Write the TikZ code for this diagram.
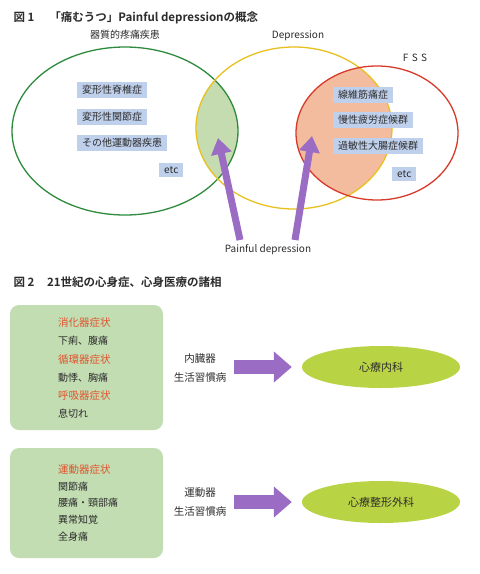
\documentclass[tikz,border=0pt]{standalone}
\usepackage{fontspec}
\setmainfont{Noto Sans CJK JP}[BoldFont={Noto Sans CJK JP Bold}]
\usetikzlibrary{arrows.meta,shapes.geometric}
\definecolor{darktext}{HTML}{2C2C2C}
\definecolor{organgreen}{HTML}{2E8A3C}
\definecolor{depyellow}{HTML}{E8C020}
\definecolor{fssred}{HTML}{D83A2A}
\definecolor{mixgreen}{HTML}{C5DBB0}
\definecolor{mixsalmon}{HTML}{F3BC9E}
\definecolor{tagblue}{HTML}{BFD0EC}
\definecolor{arrowpurple}{HTML}{9A6CC4}
\definecolor{boxgreen}{HTML}{C2DDB2}
\definecolor{limegreen}{HTML}{B8D444}
\definecolor{symptomred}{HTML}{E2532E}

\begin{document}
\begin{tikzpicture}[x=1pt,y=-1pt,
  lbl/.style={font=\fontsize{10}{12}\selectfont, text=darktext},
  tag/.style={lbl, fill=tagblue, anchor=west, inner xsep=5pt, inner ysep=3pt},
  symptom/.style={font=\fontsize{10.5}{12}\selectfont, text=symptomred, anchor=west, inner sep=0pt},
  complaint/.style={lbl, anchor=west, inner sep=0pt},
  fattarrow/.style={arrowpurple, line width=7pt, -{Triangle[length=16pt,width=20pt]}},
  blockarrow/.style={arrowpurple, line width=14pt, -{Triangle[length=18pt,width=30pt]}},
  clinic/.style={ellipse, fill=limegreen, minimum width=158pt, minimum height=42pt, font=\fontsize{11}{13}\selectfont, text=darktext},
  groupbox/.style={draw=none, fill=boxgreen, rounded corners=9pt}]
\useasboundingbox[fill=white] (0,0) rectangle (480,574);

% Figure 1
\node[anchor=west, font=\bfseries\fontsize{11.5}{13}\selectfont, text=darktext] (title1) at (10,18)
  {図 1\hspace{1.3em}「痛むうつ」Painful depressionの概念};

\begin{scope}
  \clip (125,131) ellipse [x radius=113pt, y radius=84pt];
  \fill[mixgreen] (294,128) ellipse [x radius=98pt, y radius=81pt];
\end{scope}
\begin{scope}
  \clip (377,133) ellipse [x radius=81pt, y radius=67pt];
  \fill[mixsalmon] (294,128) ellipse [x radius=98pt, y radius=81pt];
\end{scope}
\draw[organgreen, line width=1.3pt] (125,131) ellipse [x radius=113pt, y radius=84pt];
\draw[depyellow, line width=1.3pt] (294,128) ellipse [x radius=98pt, y radius=81pt];
\draw[fssred, line width=1.3pt] (377,133) ellipse [x radius=81pt, y radius=67pt];

\node[lbl] (organic) at (125,35) {器質的疼痛疾患};
\node[lbl] (depress) at (298,36) {Depression};
\node[lbl] (fss) at (415,58) {F\,\,S\,\,S};

\node[tag] (spondy) at (77,90) {変形性脊椎症};
\node[tag] (arthro) at (77,117) {変形性関節症};
\node[tag] (locomo) at (77,143) {その他運動器疾患};
\node[tag] (etcL) at (159,170) {etc};

\node[tag] (fibro) at (333,95) {線維筋痛症};
\node[tag] (fatigue) at (333,120) {慢性疲労症候群};
\node[tag] (bowel) at (333,146) {過敏性大腸症候群};
\node[tag] (etcR) at (392,174) {etc};

\node[lbl] (painful) at (268,250) {Painful depression};
\coordinate (footL) at (240,240);
\coordinate (tipL) at (218,138);
\coordinate (footR) at (295,240);
\coordinate (tipR) at (312,136);
\draw[fattarrow] (footL) -- (tipL);
\draw[fattarrow] (footR) -- (tipR);

% Figure 2
\node[anchor=west, font=\bfseries\fontsize{11.5}{13}\selectfont, text=darktext] (title2) at (10,282)
  {図 2\hspace{1.1em}21世紀の心身症、心身医療の諸相};

\fill[groupbox] (10,305) rectangle (163,430);
\node[symptom] (digest) at (58,323) {消化器症状};
\node[complaint] at (58,341) {下痢、腹痛};
\node[symptom] (circul) at (58,360) {循環器症状};
\node[complaint] at (58,378) {動悸、胸痛};
\node[symptom] (respir) at (58,396) {呼吸器症状};
\node[complaint] at (58,414) {息切れ};

\node[lbl, align=center, font=\fontsize{10.5}{19}\selectfont] (viscera) at (200,368) {内臓器\\生活習慣病};
\node[clinic] (psychint) at (381,367) {心療内科};
\draw[blockarrow] ([xshift=4pt]viscera.east |- psychint.west) -- ([xshift=-10pt]psychint.west);

\fill[groupbox] (10,448) rectangle (163,558);
\node[symptom] (motor) at (58,470) {運動器症状};
\node[complaint] at (58,487) {関節痛};
\node[complaint] at (58,503) {腰痛・頸部痛};
\node[complaint] at (58,520) {異常知覚};
\node[complaint] at (58,537) {全身痛};

\node[lbl, align=center, font=\fontsize{10.5}{19}\selectfont] (musculo) at (200,502) {運動器\\生活習慣病};
\node[clinic] (psychortho) at (381,502) {心療整形外科};
\draw[blockarrow] ([xshift=4pt]musculo.east |- psychortho.west) -- ([xshift=-10pt]psychortho.west);
\end{tikzpicture}
\end{document}
